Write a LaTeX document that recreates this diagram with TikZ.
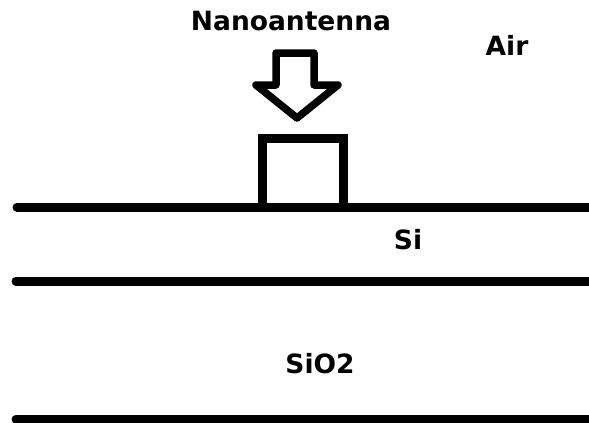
\documentclass[tikz,border=0pt]{standalone}
\usepackage{fontspec}
\setmainfont{DejaVu Sans}
\begin{document}
\begin{tikzpicture}[x=1pt,y=-1pt,
  layer/.style={line width=9pt,line cap=round},
  outline/.style={line width=9pt,line join=miter},
  pointer/.style={line width=7.5pt,line join=round},
  label/.style={font=\bfseries\fontsize{26.5}{30}\selectfont,inner sep=0pt,anchor=center}]
  \useasboundingbox (0,0) rectangle (589,423);
  % interfaces between the layers
  \coordinate (l1a) at (17,207);  \coordinate (l1b) at (600,207);
  \coordinate (l2a) at (16,281);  \coordinate (l2b) at (600,281);
  \coordinate (l3a) at (16,419);  \coordinate (l3b) at (600,419);
  \draw[layer] (l1a) -- (l1b);
  \draw[layer] (l2a) -- (l2b);
  \draw[layer] (l3a) -- (l3b);
  % antenna block sitting on the silicon surface
  \draw[outline] (262.5,207) -- (262.5,138) -- (343.5,138) -- (343.5,207);
  % hollow arrow pointing at the block
  \draw[pointer] (276,85) -- (276,53) -- (314,53) -- (314,85) -- (338,85)
    -- (297,118) -- (256,85) -- cycle;
  % labels
  \node[label] (nano) at (291,21) {Nanoantenna};
  \node[label] (air) at (507,45) {Air};
  \node[label] (si) at (408,240) {Si};
  \node[label] (sio2) at (320,364) {SiO2};
\end{tikzpicture}
\end{document}
